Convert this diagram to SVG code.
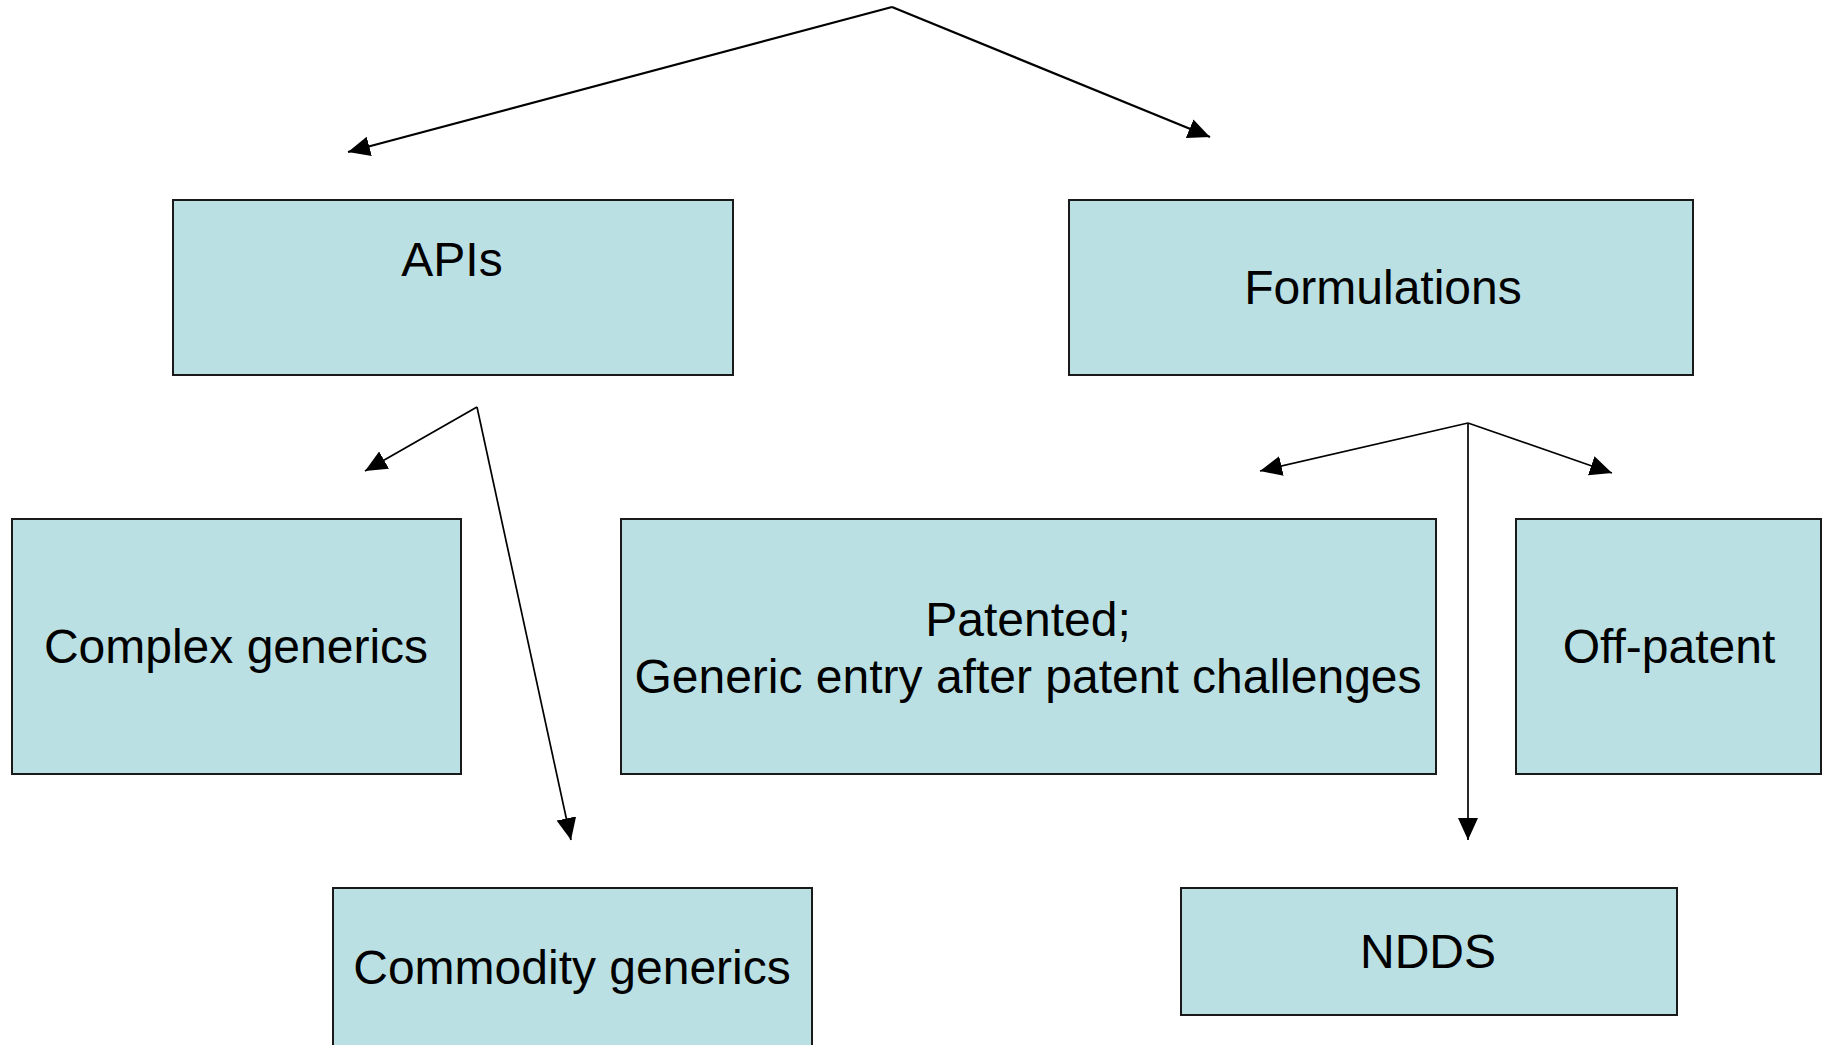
<svg xmlns="http://www.w3.org/2000/svg" width="1830" height="1045" viewBox="0 0 1830 1045">
<style>
.box{fill:#BBE0E3;stroke:#1a1a1a;stroke-width:2}
.lbl{font-family:"Liberation Sans",Arial,sans-serif;font-size:48px;fill:#000;text-anchor:middle}
.con{fill:none;stroke:#000;stroke-width:1.7;marker-end:url(#ah)}
.top{stroke-width:2.2}
</style>
<defs>
<marker id="ah" markerUnits="userSpaceOnUse" markerWidth="24" markerHeight="22" refX="22" refY="10" orient="auto">
<path d="M0,0 L22,10 L0,20 Z" fill="#000"/>
</marker>
</defs>
<rect width="1830" height="1045" fill="#fff"/>
<g id="connectors">
<line class="con top" x1="892" y1="7" x2="348" y2="152"/>
<line class="con top" x1="892" y1="7" x2="1210" y2="137"/>
<line class="con" x1="477" y1="407" x2="365" y2="471"/>
<line class="con" x1="477" y1="407" x2="571" y2="840"/>
<line class="con" x1="1468" y1="423" x2="1260" y2="471"/>
<line class="con" x1="1468" y1="423" x2="1612" y2="473"/>
<line class="con" x1="1468" y1="423" x2="1468" y2="840"/>
</g>
<g id="apis">
<rect class="box" x="173" y="200" width="560" height="175"/>
<text class="lbl" x="452" y="276">APIs</text>
</g>
<g id="formulations">
<rect class="box" x="1069" y="200" width="624" height="175"/>
<text class="lbl" x="1383" y="304">Formulations</text>
</g>
<g id="complex">
<rect class="box" x="12" y="519" width="449" height="255"/>
<text class="lbl" x="236" y="663">Complex generics</text>
</g>
<g id="patented">
<rect class="box" x="621" y="519" width="815" height="255"/>
<text class="lbl" x="1028" y="636">Patented;</text>
<text class="lbl" x="1028" y="693">Generic entry after patent challenges</text>
</g>
<g id="offpatent">
<rect class="box" x="1516" y="519" width="305" height="255"/>
<text class="lbl" x="1669" y="663">Off-patent</text>
</g>
<g id="commodity">
<rect class="box" x="333" y="888" width="479" height="170"/>
<text class="lbl" x="572" y="984">Commodity generics</text>
</g>
<g id="ndds">
<rect class="box" x="1181" y="888" width="496" height="127"/>
<text class="lbl" x="1428" y="968">NDDS</text>
</g>
</svg>
